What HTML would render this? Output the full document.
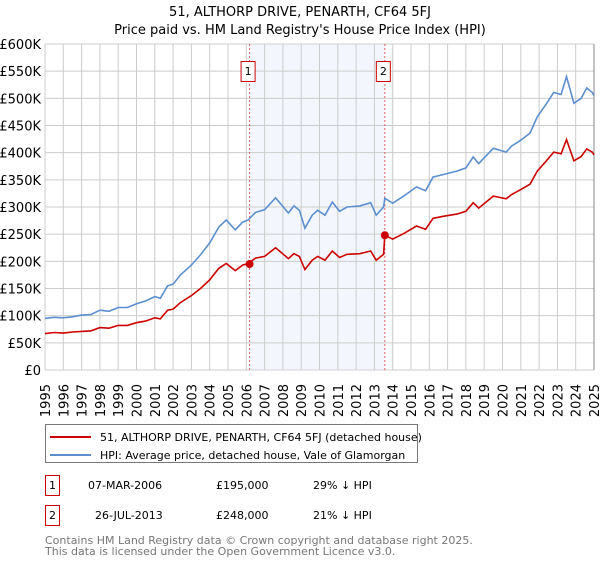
<!DOCTYPE html>
<html><head><meta charset="utf-8"><style>
body{margin:0;background:#fff;font-family:"Liberation Sans","DejaVu Sans",sans-serif;}
svg text{font-family:"DejaVu Sans","Liberation Sans",sans-serif;}
</style></head><body>
<svg id="c" width="600" height="560" viewBox="0 0 600 560">
<text x="300" y="16" text-anchor="middle" font-size="13">51, ALTHORP DRIVE, PENARTH, CF64 5FJ</text>
<text x="300" y="34" text-anchor="middle" font-size="13">Price paid vs. HM Land Registry's House Price Index (HPI)</text>
<g id="grid"></g><g id="lines"></g>
<g>
<rect x="45.5" y="424.5" width="372" height="38" fill="#fff" stroke="#777"/>
<line x1="50" y1="437" x2="91" y2="437" stroke="#cc0000" stroke-width="2"/>
<text x="100" y="441" font-size="11">51, ALTHORP DRIVE, PENARTH, CF64 5FJ (detached house)</text>
<line x1="50" y1="455" x2="91" y2="455" stroke="#5b8fd0" stroke-width="2"/>
<text x="100" y="459" font-size="11">HPI: Average price, detached house, Vale of Glamorgan</text>
</g>
<g font-size="11">
<rect x="45.5" y="475.5" width="14" height="20" fill="#fff" stroke="#cc0000"/>
<text x="52.5" y="489" text-anchor="middle">1</text>
<text x="88" y="489">07-MAR-2006</text>
<text x="216" y="489">£195,000</text>
<text x="313" y="489">29% ↓ HPI</text>
<rect x="45.5" y="505.5" width="14" height="20" fill="#fff" stroke="#cc0000"/>
<text x="52.5" y="519" text-anchor="middle">2</text>
<text x="95" y="519">26-JUL-2013</text>
<text x="216" y="519">£248,000</text>
<text x="313" y="519">21% ↓ HPI</text>
</g>
<text x="45" y="544" font-size="11" fill="#777">Contains HM Land Registry data © Crown copyright and database right 2025.</text>
<text x="45" y="555" font-size="11" fill="#777">This data is licensed under the Open Government Licence v3.0.</text>
</svg>
<script>
const years=[1995,1995.5,1996,1996.5,1997,1997.5,1998,1998.5,1999,1999.5,2000,2000.5,2001,2001.3,2001.7,2002,2002.4,2003,2003.5,2004,2004.5,2004.9,2005.4,2005.8,2006.1,2006.5,2007,2007.6,2008.3,2008.6,2008.9,2009.2,2009.6,2009.9,2010.3,2010.7,2011.1,2011.5,2012.2,2012.8,2013.1,2013.5,2013.57,2014,2014.6,2015.3,2015.8,2016.2,2016.8,2017.5,2018,2018.4,2018.7,2019.5,2020.2,2020.5,2021,2021.5,2021.9,2022.4,2022.8,2023.2,2023.5,2023.9,2024.3,2024.6,2024.9,2025];
const hpiValues=[95,97,96,98,101,102,110,108,115,115,122,127,135,132,155,158,175,193,212,234,263,276,258,272,276,290,295,317,289,302,294,261,285,294,285,309,292,300,302,308,285,300,316,307,320,337,330,355,360,366,372,392,380,408,401,412,423,436,466,490,511,507,540,491,500,519,511,505];
const priceValues=[67,69,68,70,71,72,78,77,82,82,87,90,96,94,110,112,124,137,150,166,187,196,183,193,196,206,209,225,205,214,209,185,202,209,202,219,207,213,214,219,202,213,248,241,251,265,259,279,283,287,292,308,298,320,315,323,332,342,366,385,401,398,424,385,393,407,401,396];
const yTicks=[0,50,100,150,200,250,300,350,400,450,500,550,600];
const xTicks=[1995,1996,1997,1998,1999,2000,2001,2002,2003,2004,2005,2006,2007,2008,2009,2010,2011,2012,2013,2014,2015,2016,2017,2018,2019,2020,2021,2022,2023,2024,2025];
const saleYears=[2006.18,2013.57];
const salePrices=[195,248];
const X0=45,X1=594,Y0=370,Y1=44;
const xs=y=>X0+(y-1995)/30*(X1-X0);
const ys=v=>Y0-v/600*(Y0-Y1);
const NS='http://www.w3.org/2000/svg';
function mk(t,a,p){const e=document.createElementNS(NS,t);for(const k in a)e.setAttribute(k,a[k]);p.appendChild(e);return e;}
const g=document.getElementById('grid'),L=document.getElementById('lines');
const sh=mk('rect',{x:xs(saleYears[0]),y:Y1,width:xs(saleYears[1])-xs(saleYears[0]),height:Y0-Y1,fill:'#eef3fc',opacity:0.7},g);


yTicks.forEach(v=>{
 const l=mk('line',{x1:X0,x2:X1,y1:ys(v),y2:ys(v),stroke:'#ccc'},g);
 
 
 const t=mk('text',{x:41,y:ys(v)+5,'text-anchor':'end','font-size':13},g);
 t.textContent=v===0?'£0':'£'+v+'K';
 
 
});
xTicks.forEach(v=>{
 const l=mk('line',{x1:xs(v),x2:xs(v),y1:Y1,y2:Y0,stroke:'#ccc'},g);
 
 
 const t=mk('text',{x:0,y:0,'text-anchor':'end','font-size':13,transform:`translate(${xs(v)+5},384) rotate(-90)`},g);
 t.textContent=v;
 
 
});
const ax=mk('line',{x1:X1,x2:X1,y1:Y1,y2:Y0,stroke:'#888'},g);


saleYears.forEach((s,i)=>{
 const l=mk('line',{x1:xs(s),x2:xs(s),y1:Y1,y2:Y0,stroke:'#e06060','stroke-dasharray':'2,2'},L);
 
 
 const r=mk('rect',{x:xs(s)-8.5,y:61.5,width:14,height:20,fill:'#fff',stroke:'#cc0000'},L);
 
 
 const t=mk('text',{x:xs(s)-1.5,y:75,'text-anchor':'middle','font-size':11},L);
 t.textContent=i+1;
 
 
});
const pth=vals=>vals.map((v,i)=>(i?'L':'M')+xs(years[i]).toFixed(1)+','+ys(v).toFixed(1)).join('');
const h=mk('path',{d:pth(hpiValues),fill:'none',stroke:'#5b8fd0','stroke-width':1.6},L);


const p=mk('path',{d:pth(priceValues),fill:'none',stroke:'#cc0000','stroke-width':1.6},L);


saleYears.forEach((s,i)=>{
 const c=mk('circle',{cx:xs(s),cy:ys(salePrices[i]),r:4,fill:'#cc0000'},L);
 
 
});
</script>
</body></html>
